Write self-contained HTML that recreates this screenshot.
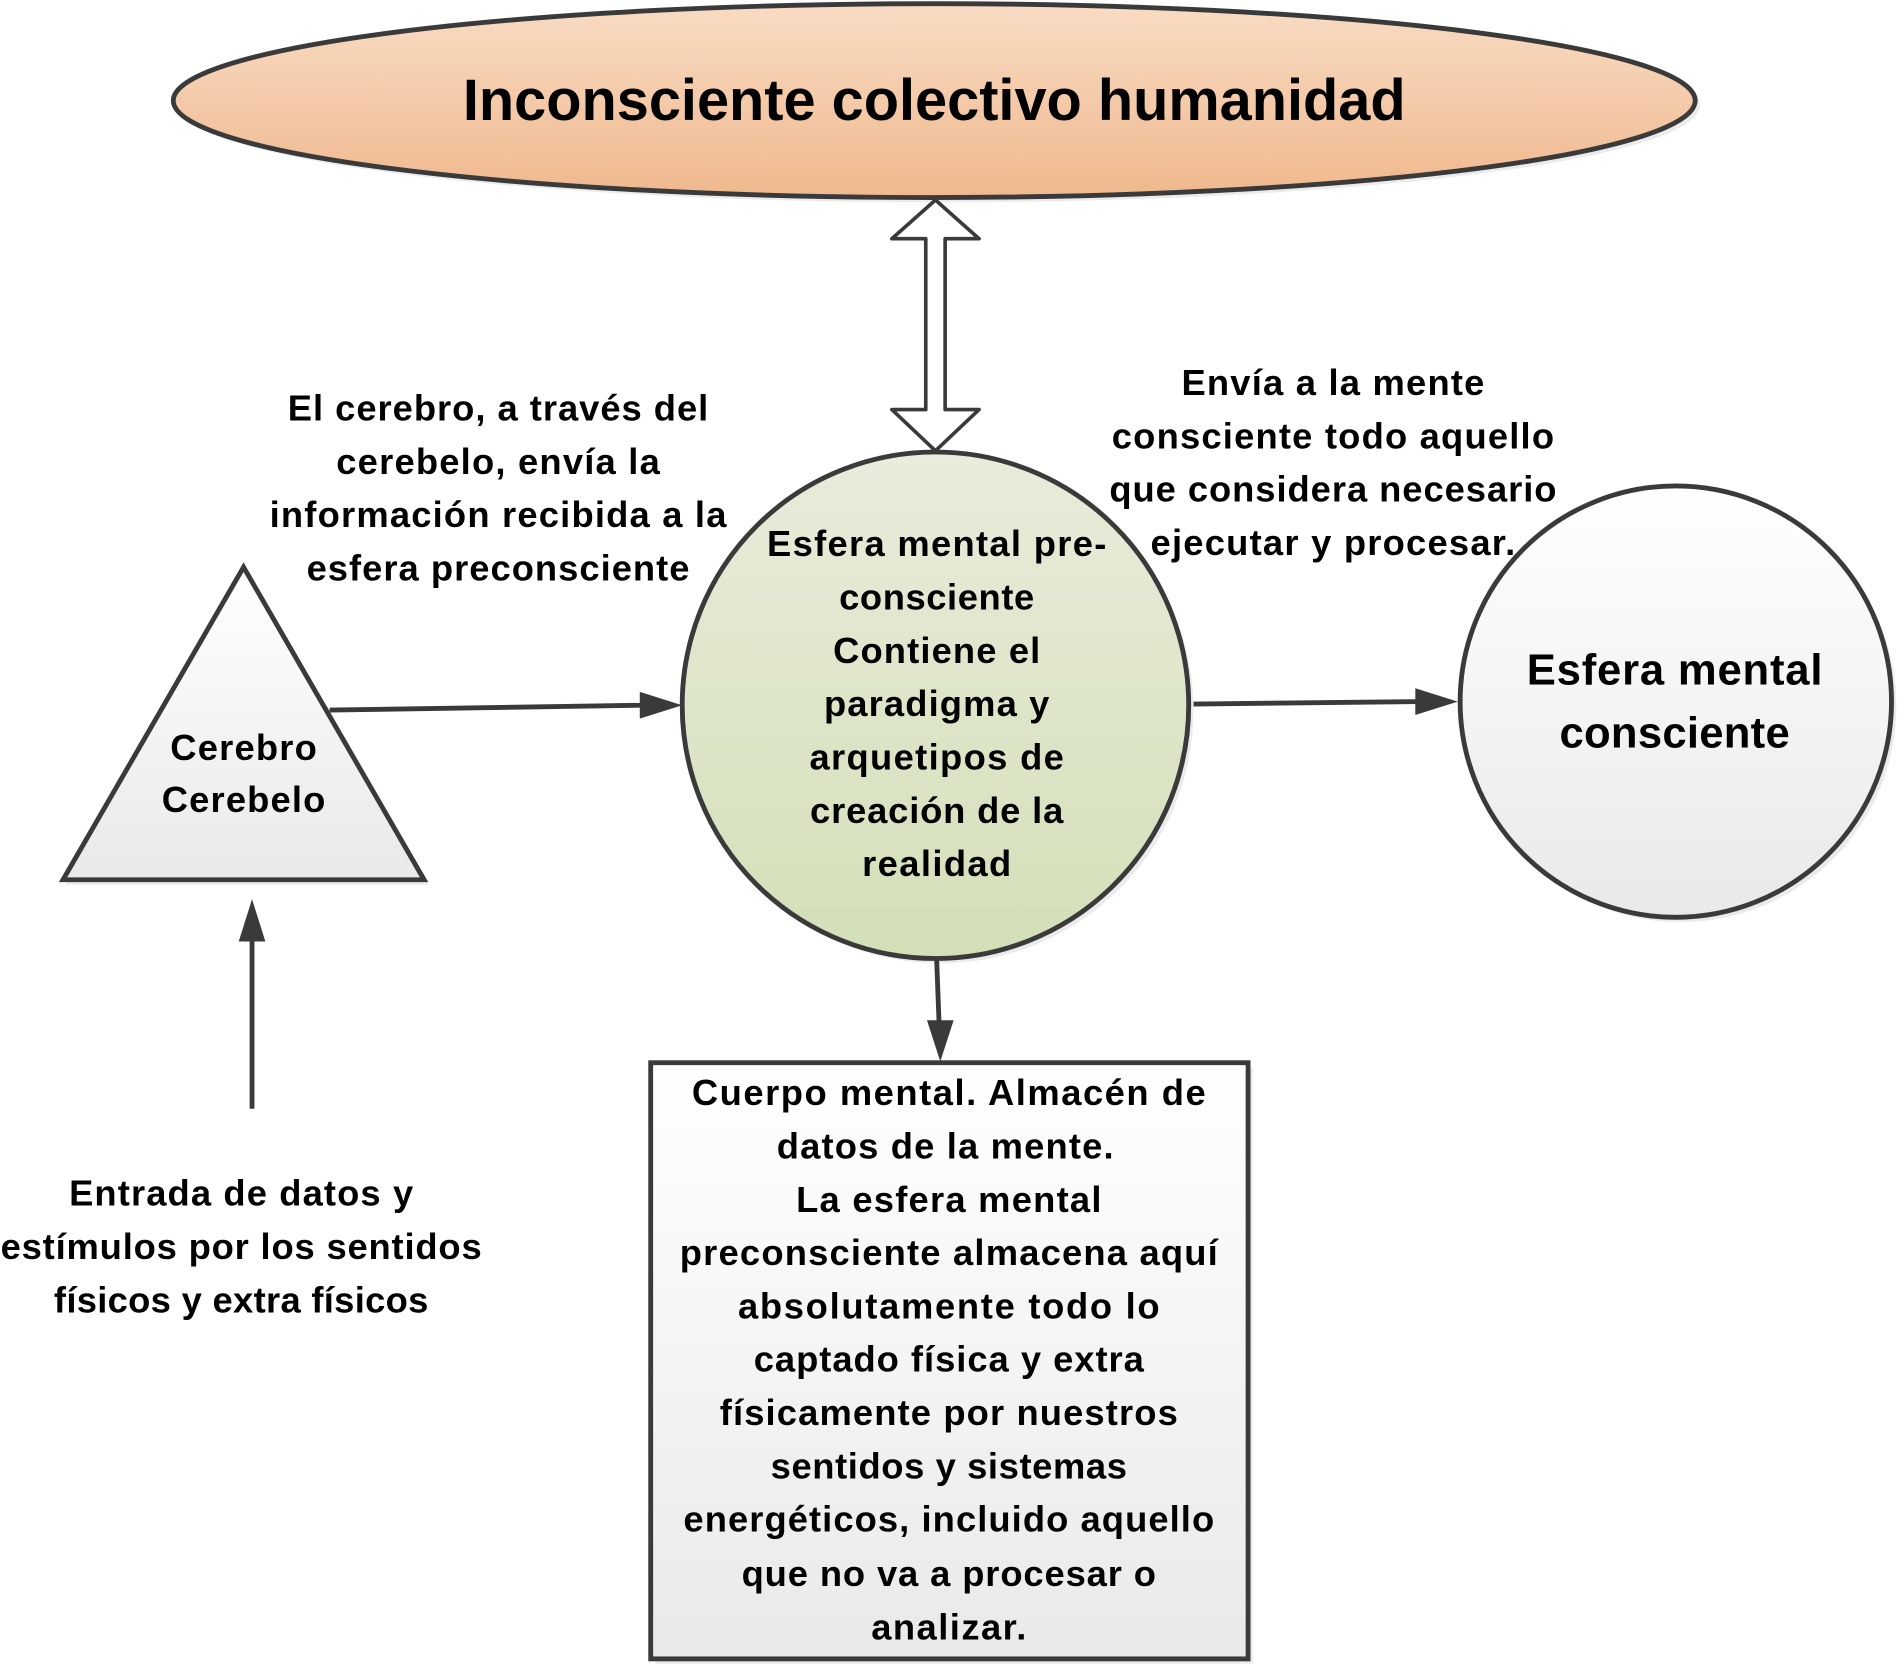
<!DOCTYPE html>
<html><head><meta charset="utf-8"><style>html,body{margin:0;padding:0;background:#fff}svg{display:block}</style></head>
<body>
<svg width="1900" height="1668" viewBox="0 0 1568 1376.5" xmlns="http://www.w3.org/2000/svg" font-family="'Liberation Sans', sans-serif" font-weight="bold">
<defs>
<linearGradient id="gp" x1="0" y1="0" x2="0" y2="1"><stop offset="0" stop-color="#f8dcc4"/><stop offset="1" stop-color="#f0b88e"/></linearGradient>
<linearGradient id="gg" x1="0" y1="0" x2="0" y2="1"><stop offset="0" stop-color="#e8ecdb"/><stop offset="1" stop-color="#d3dfb8"/></linearGradient>
<linearGradient id="gw" x1="0" y1="0" x2="0" y2="1"><stop offset="0" stop-color="#ffffff"/><stop offset="1" stop-color="#e9e9e9"/></linearGradient>
</defs>
<g fill="#ddd" opacity="0.6">
<ellipse cx="775" cy="87" rx="628" ry="80"/>
<circle cx="776" cy="586" r="209"/>
<circle cx="1387" cy="583" r="178"/>
<polygon points="205,472 54,730 354,730"/>
<rect x="541" y="881" width="493" height="492"/>
</g>
<ellipse cx="771" cy="83" rx="628" ry="80" fill="url(#gp)" stroke="#3a3a3a" stroke-width="4"/>
<text x="771" y="99" font-size="48" text-anchor="middle" textLength="778" lengthAdjust="spacingAndGlyphs">Inconsciente colectivo humanidad</text>
<polygon points="772,165 808,197 780,197 780,338 808,338 772,372 736,338 764,338 764,197 736,197" fill="#fff" stroke="#3a3a3a" stroke-width="3" stroke-linejoin="round"/>
<circle cx="772" cy="582" r="209" fill="url(#gg)" stroke="#3a3a3a" stroke-width="4"/>
<circle cx="1383" cy="579" r="178" fill="url(#gw)" stroke="#3a3a3a" stroke-width="4"/>
<polygon points="201,468 52,726 350,726" fill="url(#gw)" stroke="#3a3a3a" stroke-width="4" stroke-linejoin="miter"/>
<rect x="537" y="877" width="493" height="492" fill="url(#gw)" stroke="#3a3a3a" stroke-width="4"/>
<g stroke="#3a3a3a" stroke-width="4" fill="#3a3a3a">
<line x1="272" y1="586" x2="530" y2="582"/><polygon points="563,582 528,571 528,593" stroke="none"/>
<line x1="985" y1="581" x2="1170" y2="579"/><polygon points="1203,579 1168,568 1168,590" stroke="none"/>
<line x1="208" y1="915" x2="208" y2="775"/><polygon points="208,742 197,777 219,777" stroke="none"/>
<line x1="773" y1="792" x2="775" y2="845"/><polygon points="776,876 765,842 787,842" stroke="none"/>
</g>
<g font-size="30" text-anchor="middle" fill="#000" lengthAdjust="spacingAndGlyphs">
<text x="411" y="347" textLength="347">El cerebro, a través del</text>
<text x="411" y="391" textLength="267">cerebelo, envía la</text>
<text x="411" y="435" textLength="377">información recibida a la</text>
<text x="411" y="479" textLength="316">esfera preconsciente</text>
<text x="1100" y="326" textLength="250">Envía a la mente</text>
<text x="1100" y="370" textLength="365">consciente todo aquello</text>
<text x="1100" y="414" textLength="369">que considera necesario</text>
<text x="1100" y="458" textLength="301">ejecutar y procesar.</text>
<text x="773" y="459" textLength="280">Esfera mental pre-</text>
<text x="773" y="503" textLength="161">consciente</text>
<text x="773" y="547" textLength="171">Contiene el</text>
<text x="773" y="591" textLength="186">paradigma y</text>
<text x="773" y="635" textLength="210">arquetipos de</text>
<text x="773" y="679" textLength="209">creación de la</text>
<text x="773" y="723" textLength="123">realidad</text>
<text x="201" y="627" textLength="121">Cerebro</text>
<text x="201" y="670" textLength="135">Cerebelo</text>
<text x="199" y="995" textLength="284">Entrada de datos y</text>
<text x="199" y="1039" textLength="397">estímulos por los sentidos</text>
<text x="199" y="1083" textLength="309">físicos y extra físicos</text>
<text x="783" y="912" textLength="424">Cuerpo mental. Almacén de</text>
<text x="780" y="956" textLength="278">datos de la mente.</text>
<text x="783" y="1000" textLength="252">La esfera mental</text>
<text x="783" y="1044" textLength="444">preconsciente almacena aquí</text>
<text x="783" y="1088" textLength="348">absolutamente todo lo</text>
<text x="783" y="1132" textLength="322">captado física y extra</text>
<text x="783" y="1176" textLength="378">físicamente por nuestros</text>
<text x="783" y="1220" textLength="294">sentidos y sistemas</text>
<text x="783" y="1264" textLength="438">energéticos, incluido aquello</text>
<text x="783" y="1309" textLength="342">que no va a procesar o</text>
<text x="783" y="1353" textLength="128">analizar.</text>
</g>
<g font-size="36" text-anchor="middle" fill="#000" lengthAdjust="spacingAndGlyphs">
<text x="1382" y="565" textLength="244">Esfera mental</text>
<text x="1382" y="617" textLength="190">consciente</text>
</g>
</svg>
</body></html>
